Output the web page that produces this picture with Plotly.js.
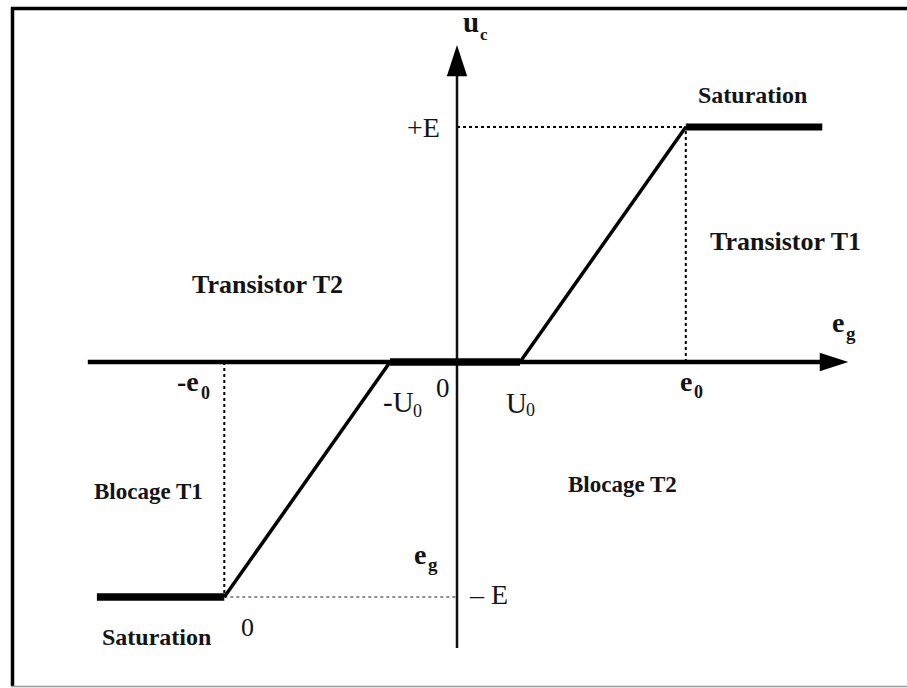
<!DOCTYPE html>
<html>
<head>
<meta charset="utf-8">
<script src="https://cdn.plot.ly/plotly-3.0.1.min.js"></script>
<style>
  html, body { margin: 0; padding: 0; background: #fff; }
  #chart { width: 907px; height: 688px; }
</style>
</head>
<body>
<div id="chart"></div>
<script>
// Transfer characteristic u_c = f(e_g) of the push-pull stage (u_c in units of E)
const cornerEg = [-5.54, -3.58, -1.03, 0.97, 3.52, 5.62];   // e_g at each corner of the curve
const cornerUc = [-1, -1, 0, 0, 1, 1];                      // u_c at each corner (x E)
const egAxisSpan = [-5.68, 6.02];                           // horizontal axis extent
const ucAxisSpan = [-1.217, 1.349];                         // vertical axis extent
const supplyE = 1;                                          // +E / -E levels
const e0 = cornerEg[4], minusE0 = cornerEg[1];
const U0 = cornerEg[3], minusU0 = cornerEg[2];

const ink = '#141414';
const serif = 'Liberation Serif, Times New Roman, serif';

function seg(i, j, width) {
  return {
    x: cornerEg.slice(i, j + 1), y: cornerUc.slice(i, j + 1),
    mode: 'lines', line: { color: '#000', width: width },
    hoverinfo: 'skip', showlegend: false
  };
}
function guide(xs, ys, color, width) {
  return {
    x: xs, y: ys, mode: 'lines',
    line: { color: color, width: width, dash: 'dot' },
    hoverinfo: 'skip', showlegend: false
  };
}
function arrowTip(x, y, angle, size) {
  return {
    x: [x], y: [y], mode: 'markers',
    marker: { symbol: 'arrow', angle: angle, size: size, color: '#000', line: { width: 0 } },
    hoverinfo: 'skip', showlegend: false
  };
}

const traces = [
  // projection guides
  guide([0, e0], [supplyE, supplyE], '#000', 2),
  guide([e0, e0], [0, supplyE], '#000', 2),
  guide([minusE0, minusE0], [0, -supplyE], '#000', 2),
  guide([minusE0, 0], [-supplyE, -supplyE], '#6a6a6a', 1.6),
  // vertical axis u_c
  { x: [0, 0], y: [ucAxisSpan[0], ucAxisSpan[1] - 0.1], mode: 'lines',
    line: { color: '#111', width: 2.5 }, hoverinfo: 'skip', showlegend: false },
  arrowTip(0, ucAxisSpan[1], 0, 33),
  // horizontal axis e_g
  { x: [egAxisSpan[0], egAxisSpan[1] - 0.3], y: [0, 0], mode: 'lines',
    line: { color: '#000', width: 4.5 }, hoverinfo: 'skip', showlegend: false },
  arrowTip(egAxisSpan[1], 0, 90, 30),
  // curve
  seg(0, 1, 7.5),
  seg(1, 2, 3.5),
  seg(2, 3, 7.5),
  seg(3, 4, 3.5),
  seg(4, 5, 7)
];

function label(text, x, y, size, weight, anchor, shift) {
  return {
    text: text, x: x, y: y, xref: 'x', yref: 'y', showarrow: false,
    xanchor: anchor || 'center', yanchor: 'middle', borderpad: 0,
    xshift: shift || 0,
    font: { family: serif, size: size, color: ink, weight: weight || 'normal' }
  };
}
// symbol with a subscript: base text ends at jx, subscript starts at jx
function symbol(base, sub, jx, yBase, ySub, size, subSize, weight, subShift) {
  return [
    label(base, jx, yBase, size, weight, 'right'),
    label(sub, jx, ySub, subSize, weight, 'left', subShift || 0)
  ];
}

const annotations = [
  ...symbol('u', 'c', 0.354, 1.447, 1.394, 29, 17, 'bold', -1),
  label('+E', -0.51, supplyE, 28, 'normal'),
  label('Saturation', 4.55, 1.136, 24, 'bold'),
  label('Transistor T1', 5.05, 0.511, 26, 'bold'),
  label('Transistor T2', -2.91, 0.328, 26, 'bold'),
  ...symbol('e', 'g', 5.97, 0.166, 0.123, 28, 19, 'bold'),
  ...symbol('-e', '0', -3.954, -0.085, -0.132, 28, 18, 'bold'),
  ...symbol('-U', '0', -0.646, -0.170, -0.209, 29, 18, 'normal', -3),
  label('0', -0.215, -0.11, 27, 'normal'),
  ...symbol('U', '0', 1.092, -0.174, -0.204, 29, 18, 'normal', -3),
  ...symbol('e', '0', 3.631, -0.085, -0.128, 28, 18, 'bold'),
  label('Blocage T1', -4.75, -0.553, 23, 'bold'),
  label('Blocage T2', 2.54, -0.523, 23, 'bold'),
  ...symbol('e', 'g', -0.462, -0.817, -0.860, 28, 19, 'bold'),
  label('\u2013 E', 0.48, -supplyE + 0.012, 28, 'normal'),
  label('Saturation', -4.62, -1.17, 24, 'bold'),
  label('0', minusE0 + 0.35, -1.13, 26, 'normal')
];

// outer frame: heavy top and left rules, light bottom rule
const shapes = [
  { type: 'line', xref: 'paper', yref: 'paper', x0: 11 / 907, x1: 1, y0: 1 - 8.5 / 688, y1: 1 - 8.5 / 688,
    line: { color: '#000', width: 3.5 } },
  { type: 'line', xref: 'paper', yref: 'paper', x0: 12.5 / 907, x1: 12.5 / 907, y0: 1 - 7 / 688, y1: 1 - 686 / 688,
    line: { color: '#000', width: 3.5 } },
  { type: 'line', xref: 'paper', yref: 'paper', x0: 11 / 907, x1: 1, y0: 1 - 686.5 / 688, y1: 1 - 686.5 / 688,
    line: { color: '#9a9a9a', width: 1.5 } }
];

const layout = {
  width: 907, height: 688,
  margin: { l: 0, r: 0, t: 0, b: 0 },
  paper_bgcolor: '#fff', plot_bgcolor: '#fff',
  xaxis: { range: [-457 / 65, 450 / 65], visible: false, fixedrange: true },
  yaxis: { range: [-326 / 235, 362 / 235], visible: false, fixedrange: true },
  showlegend: false,
  annotations: annotations,
  shapes: shapes
};

Plotly.newPlot('chart', traces, layout, { staticPlot: true, displayModeBar: false });
</script>
</body>
</html>
